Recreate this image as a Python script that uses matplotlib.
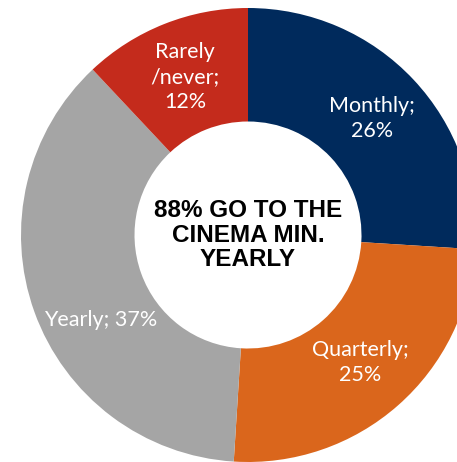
import numpy as np
import matplotlib.pyplot as plt

# Daten
kategorien = ['Monthly', 'Quarterly', 'Yearly', 'Rarely\n/never']
anteile = [26, 25, 37, 12]
beschriftungen = ['Monthly;\n26%', 'Quarterly;\n25%', 'Yearly; 37%', 'Rarely\n/never;\n12%']
farben = ['#002A5C', '#DA661C', '#A5A5A5', '#C42B1C']
mitte_text = '88% GO TO THE\nCINEMA MIN.\nYEARLY'

fig = plt.figure(figsize=(4.57, 4.62), dpi=100)
ax = fig.add_axes([0, 0, 1, 1])

wedges, _ = ax.pie(anteile, colors=farben, startangle=90, counterclock=False,
                   radius=1.0, wedgeprops=dict(width=0.5, linewidth=0))

# Beschriftungen in den Ringsegmenten
versatz = [0, 0, 10, 0]  # kleine Winkelverschiebung wie im Original
for w, text, dv in zip(wedges, beschriftungen, versatz):
    winkel = np.deg2rad((w.theta1 + w.theta2) / 2 + dv)
    r = 0.75
    ax.text(r * np.cos(winkel), r * np.sin(winkel), text, ha='center', va='center',
            color='white', fontsize=15.5, family='Lato', linespacing=1.3)

ax.text(0, 0, mitte_text, ha='center', va='center', fontsize=17.5,
        fontweight='bold', family='Liberation Sans', linespacing=1.08)

ax.set_xlim(-248 / 227, (457 - 248) / 227)
ax.set_ylim(-(462 - 235) / 227, 235 / 227)
ax.set_aspect('auto')
ax.axis('off')

fig.savefig('out.png', dpi=100)
